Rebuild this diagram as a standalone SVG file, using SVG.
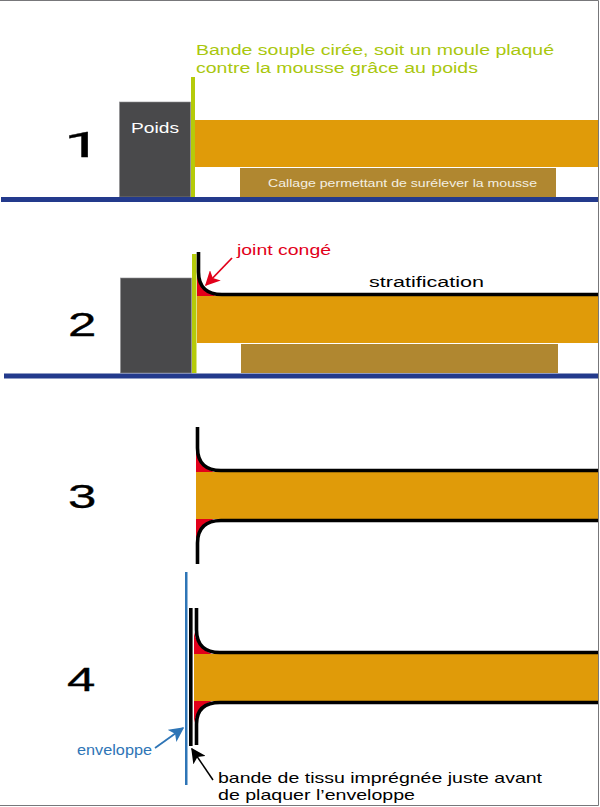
<svg xmlns="http://www.w3.org/2000/svg" width="600" height="807" viewBox="0 0 600 807">
<defs>
<marker id="red" viewBox="0 0 10 10" refX="9" refY="5" markerWidth="15" markerHeight="15" markerUnits="userSpaceOnUse" orient="auto"><path d="M0 0L10 5L0 10L2.500 5Z" fill="#e2001a"/></marker>
<marker id="blue" viewBox="0 0 10 10" refX="9" refY="5" markerWidth="15" markerHeight="15" markerUnits="userSpaceOnUse" orient="auto"><path d="M0 0L10 5L0 10L2.500 5Z" fill="#2e75b6"/></marker>
<marker id="blk" viewBox="0 0 10 10" refX="9" refY="5" markerWidth="15" markerHeight="15" markerUnits="userSpaceOnUse" orient="auto"><path d="M0 0L10 5L0 10L2.500 5Z" fill="#000"/></marker>
</defs>
<style>
text{font-family:"Liberation Sans",Arial,sans-serif}
.foam{fill:#e09b09}
.wedge{fill:#b08730}
.weight{fill:#49494b;stroke:#8c8c90;stroke-width:.6}
.floor{fill:#233a8c}
.band{fill:#b5cb0a}
.lam{fill:none;stroke:#000;stroke-width:3.600}
.fil{fill:#e2001a}
.num{font-size:34px;fill:#000;stroke:#000;stroke-width:.3}
.g{font-size:15.500px;fill:#a9c70d}
.k{font-size:14.500px;fill:#000}
</style>
<rect width="600" height="807" fill="#fff"/>
<path d="M0 .5H598.500V805.500H0" fill="none" stroke="#77777a" stroke-width="1"/>
<g id="step1">
<rect class="foam" x="195" y="120" width="403" height="47"/>
<rect class="wedge" x="240" y="168" width="316" height="29"/>
<rect class="weight" x="119.500" y="102" width="71" height="95"/>
<rect class="band" x="191" y="77" width="4" height="120"/>
<rect class="floor" x="1" y="197" width="597" height="5"/>
<text x="131" y="133" font-size="15" fill="#fff" textLength="48" lengthAdjust="spacingAndGlyphs">Poids</text>
<text x="268" y="187" font-size="11.500" fill="#f3efe2" textLength="269" lengthAdjust="spacingAndGlyphs">Callage permettant de surélever la mousse</text>
<text class="g" x="196" y="55" textLength="358" lengthAdjust="spacingAndGlyphs">Bande souple cirée, soit un moule plaqué</text>
<text class="g" x="196" y="73" textLength="282" lengthAdjust="spacingAndGlyphs">contre la mousse grâce au poids</text>
<text class="num" style="font-family:Roboto,sans-serif;font-size:35px" transform="translate(64 157) scale(1.9 1)" x="0" y="0">1</text>
</g>
<g id="step2">
<rect class="foam" x="197" y="296" width="401" height="47"/>
<rect class="wedge" x="241" y="344" width="317" height="29"/>
<rect class="weight" x="120.500" y="278" width="71" height="95"/>
<rect class="band" x="192" y="254" width="4.500" height="119"/>
<rect class="floor" x="4" y="373.500" width="594" height="5"/>
<path class="fil" d="M197 275V296H216C205 292 199 285 197 275Z"/>
<path class="lam" d="M198.500 252V272C198.500 287 207 294.500 222 294.500H598"/>
<text x="237" y="255" font-size="14.500" fill="#e2001a" textLength="94" lengthAdjust="spacingAndGlyphs">joint congé</text>
<text x="369" y="287" font-size="15.500" fill="#000" textLength="115" lengthAdjust="spacingAndGlyphs">stratification</text>
<path d="M232 258L206 285" fill="none" stroke="#e2001a" stroke-width="1.800" marker-end="url(#red)"/>
<text class="num" transform="translate(68 335.500) scale(1.5 1)" x="0" y="0">2</text>
</g>
<g id="step3">
<rect class="foam" x="196" y="472" width="402" height="47"/>
<path class="fil" d="M196 450V472H214C204 468 198 460 196 450Z"/>
<path class="fil" d="M196 541V519H214C204 523 198 531 196 541Z"/>
<path class="lam" d="M197.500 427V448C197.500 463 206 470.500 221 470.500H598"/>
<path class="lam" d="M197.500 564V543C197.500 528 206 520.500 221 520.500H598"/>
<text class="num" transform="translate(68 508) scale(1.5 1)" x="0" y="0">3</text>
</g>
<g id="step4">
<rect class="foam" x="194" y="654" width="404" height="47"/>
<path class="fil" d="M194 632V654H212C202 650 196 642 194 632Z"/>
<path class="fil" d="M194 723V701H212C202 705 196 713 194 723Z"/>
<path class="lam" d="M196.500 608V630C196.500 645 205 652.500 220 652.500H598"/>
<path class="lam" d="M196.500 745V724C196.500 709 205 702.500 220 702.500H598"/>
<rect x="189" y="608" width="3.600" height="138" fill="#000"/>
<rect x="185" y="572" width="2.500" height="213" fill="#2e75b6"/>
<text class="num" transform="translate(67 691) scale(1.5 1)" x="0" y="0">4</text>
<text x="77" y="755" font-size="14" fill="#2e75b6" textLength="75" lengthAdjust="spacingAndGlyphs">enveloppe</text>
<path d="M155 748L183 728" fill="none" stroke="#2e75b6" stroke-width="1.800" marker-end="url(#blue)"/>
<path d="M213 780L192 749" fill="none" stroke="#000" stroke-width="1.500" marker-end="url(#blk)"/>
<text class="k" x="218" y="783" textLength="324" lengthAdjust="spacingAndGlyphs">bande de tissu imprégnée juste avant</text>
<text class="k" x="218" y="800" textLength="197" lengthAdjust="spacingAndGlyphs">de plaquer l’enveloppe</text>
</g>
</svg>
